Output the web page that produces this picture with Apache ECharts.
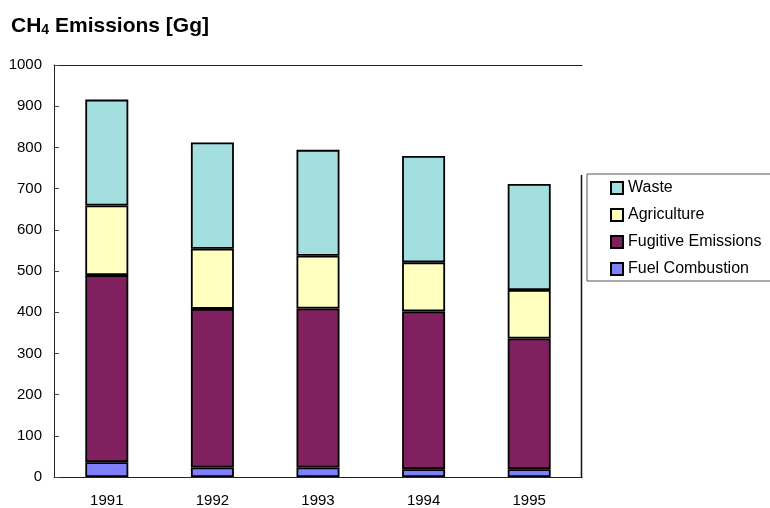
<!DOCTYPE html>
<html>
<head>
<meta charset="utf-8">
<script src="https://cdn.jsdelivr.net/npm/echarts@6/dist/echarts.min.js"></script>
<style>
html,body{margin:0;padding:0;background:#fff;}
#chart{width:770px;height:508px;}
</style>
</head>
<body>
<div id="chart"></div>
<script>
var years = ['1991', '1992', '1993', '1994', '1995'];
var fuelCombustion = [36, 23, 23, 19, 19];
var fugitiveEmissions = [454, 385, 386, 383, 317];
var agriculture = [169, 146, 128, 119, 118];
var waste = [257, 258, 257, 258, 257];
var legendOrder = ['Waste', 'Agriculture', 'Fugitive Emissions', 'Fuel Combustion'];

var FONT = '"Liberation Sans", Arial, sans-serif';
var chart = echarts.init(document.getElementById('chart'), null, {renderer: 'canvas'});

function barSeries(name, data, color) {
  return {
    name: name,
    type: 'bar',
    stack: 'total',
    data: data,
    barWidth: 43,
    itemStyle: {color: color, borderColor: '#000', borderWidth: 1.8},
    emphasis: {disabled: true}
  };
}

var option = {
  backgroundColor: '#fff',
  animation: false,
  textStyle: {fontFamily: FONT},
  title: {
    text: 'CH{sub|4} Emissions [Gg]',
    left: 6,
    top: 11,
    textStyle: {
      fontFamily: FONT,
      fontSize: 21,
      fontWeight: 'bold',
      color: '#000',
      rich: {
        sub: {fontFamily: FONT, fontSize: 14, fontWeight: 'bold', color: '#000', verticalAlign: 'bottom', padding: [7, 0, 0, 0]}
      }
    }
  },
  legend: {
    orient: 'vertical',
    left: 587,
    top: 174,
    data: legendOrder,
    itemWidth: 12,
    itemHeight: 12,
    itemGap: 11,
    icon: 'rect',
    padding: [6, 60, 4, 23],
    borderColor: '#555',
    borderWidth: 1,
    selectedMode: false,
    textStyle: {fontFamily: FONT, fontSize: 16, color: '#000'}
  },
  grid: {left: 54, right: 188, top: 65, bottom: 30, containLabel: false},
  xAxis: [{
    type: 'category',
    data: years,
    axisLine: {lineStyle: {color: '#222', width: 1}},
    axisTick: {inside: true, length: 5, lineStyle: {color: '#444'}},
    axisLabel: {fontFamily: FONT, fontSize: 15, color: '#000', margin: 16}
  }, {
    type: 'category',
    data: years,
    position: 'top',
    axisLine: {show: true, onZero: false, lineStyle: {color: '#222', width: 1}},
    axisTick: {show: false},
    axisLabel: {show: false}
  }],
  yAxis: {
    type: 'value',
    min: 0,
    max: 1000,
    interval: 100,
    axisLine: {show: true, lineStyle: {color: '#222', width: 1}},
    axisTick: {show: true, inside: true, length: 5, lineStyle: {color: '#444'}},
    splitLine: {show: false},
    axisLabel: {fontFamily: FONT, fontSize: 15, color: '#000', margin: 12, formatter: function (v) { return String(v); }}
  },
  series: [
    barSeries('Fuel Combustion', fuelCombustion, '#8080FF'),
    barSeries('Fugitive Emissions', fugitiveEmissions, '#80205F'),
    barSeries('Agriculture', agriculture, '#FFFFC0'),
    barSeries('Waste', waste, '#A3DFDF')
  ],
  graphic: [{
    type: 'line',
    shape: {x1: 581.5, y1: 175, x2: 581.5, y2: 478},
    style: {stroke: '#111', lineWidth: 1.5},
    silent: true
  }]
};
chart.setOption(option);
</script>
</body>
</html>
